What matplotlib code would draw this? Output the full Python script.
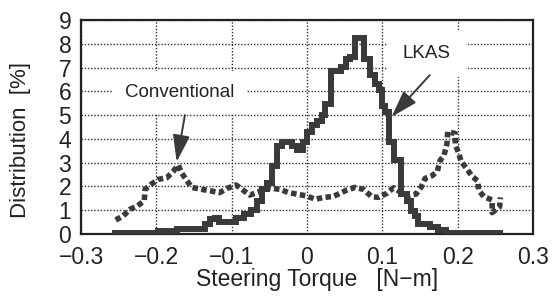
import matplotlib
matplotlib.use("Agg")
import matplotlib.pyplot as plt

plt.rcParams["font.family"] = ["Liberation Sans", "DejaVu Sans"]

# Conventional steering: distribution of torque
conv_x = [-0.254, -0.244, -0.235, -0.225, -0.216, -0.215, -0.207, -0.197, -0.186,
          -0.178, -0.171, -0.166, -0.160, -0.153, -0.140, -0.127, -0.116, -0.106,
          -0.094, -0.085, -0.076, -0.065, -0.056, -0.046, -0.036, -0.025, -0.014,
          0.000, 0.011, 0.022, 0.035, 0.044, 0.053, 0.064, 0.075, 0.086, 0.095,
          0.106, 0.115, 0.125, 0.135, 0.145, 0.152, 0.157, 0.166, 0.173, 0.177,
          0.182, 0.186, 0.187, 0.197, 0.197, 0.201, 0.205, 0.212, 0.219, 0.227,
          0.228, 0.235, 0.246, 0.246, 0.256, 0.257]
conv_y = [0.59, 0.76, 1.04, 1.18, 1.40, 1.88, 2.09, 2.30, 2.37,
          2.62, 2.90, 2.55, 2.27, 1.96, 1.88, 1.81, 1.74, 1.92,
          2.06, 1.85, 1.64, 1.75, 1.95, 1.92, 1.88, 1.75, 1.68,
          1.60, 1.46, 1.54, 1.58, 1.71, 1.85, 1.96, 1.88, 1.57, 1.54,
          1.71, 1.94, 1.75, 1.62, 1.68, 1.99, 2.34, 2.45, 2.62, 3.10,
          3.30, 3.80, 4.30, 4.23, 3.74, 3.46, 3.04, 2.76, 2.44, 2.23,
          1.85, 1.57, 1.43, 0.90, 1.15, 1.54]

# LKAS: step histogram (left bin edges, value)
lkas_x = [-0.255, -0.198, -0.173, -0.135, -0.129, -0.122, -0.117, -0.094, -0.084,
          -0.074, -0.066, -0.060, -0.053, -0.046, -0.040, -0.033, -0.020, -0.013,
          -0.005, 0.000, 0.007, 0.013, 0.020, 0.024, 0.032, 0.045, 0.052, 0.057,
          0.064, 0.076, 0.084, 0.090, 0.096, 0.100, 0.104, 0.109, 0.115, 0.125,
          0.133, 0.138, 0.144, 0.147, 0.163, 0.174, 0.185, 0.256]
lkas_y = [0.03, 0.12, 0.20, 0.40, 0.62, 0.68, 0.52, 0.66, 0.85,
          1.00, 1.40, 1.90, 2.15, 2.85, 3.70, 3.88, 3.70, 3.55,
          3.85, 4.30, 4.58, 4.75, 5.00, 5.45, 6.85, 7.03, 7.38, 7.45,
          8.25, 7.35, 6.68, 6.33, 6.05, 5.40, 5.15, 3.85, 3.10, 1.70,
          1.40, 0.95, 0.75, 0.40, 0.30, 0.15, 0.03, 0.03]

xticks = [-0.3, -0.2, -0.1, 0, 0.1, 0.2, 0.3]
xtick_labels = ["\u22120.3", "\u22120.2", "\u22120.1", "0", "0.1", "0.2", "0.3"]
yticks = list(range(10))

line_col = "#3a3a3a"
text_col = "#222222"

fig = plt.figure(figsize=(5.55, 3.0), dpi=100)
ax = fig.add_axes([0.146, 0.22, 0.814, 0.713])

ax.plot(conv_x, conv_y, color=line_col, lw=4.0, linestyle=(0, (1.0, 0.6)),
        dash_capstyle="butt", zorder=3)
ax.plot(lkas_x, lkas_y, color=line_col, lw=4.3, drawstyle="steps-post",
        solid_joinstyle="miter", zorder=4)

ax.set_xlim(-0.3, 0.3)
ax.set_ylim(0, 9)
ax.set_xticks(xticks)
ax.set_xticklabels(xtick_labels)
ax.set_yticks(yticks)
ax.tick_params(length=0, labelsize=16.5, colors=text_col, pad=7)
ax.tick_params(axis="x", pad=9)
ax.grid(True, color="#333333", linestyle=(0, (1, 1.3)), lw=1.0, zorder=1)
ax.set_axisbelow(True)
for s in ax.spines.values():
    s.set_linewidth(1.6)
    s.set_color("#222222")

ax.set_xlabel("Steering Torque   [N\u2212m]", fontsize=16.5, color=text_col)
ax.set_ylabel("Distribution  [%]", fontsize=16, color=text_col)
ax.xaxis.set_label_coords(0.522, -0.16)
ax.yaxis.set_label_coords(-0.11, 0.44)

head = "-|>,head_length=1.1,head_width=0.35"
ax.annotate("", xy=(-0.173, 3.04), xytext=(-0.162, 5.0),
            arrowprops=dict(arrowstyle=head, color=line_col, lw=1.4,
                            mutation_scale=15, shrinkA=0, shrinkB=0), zorder=5)
ax.annotate("", xy=(0.1125, 4.93), xytext=(0.163, 6.68),
            arrowprops=dict(arrowstyle=head, color=line_col, lw=1.4,
                            mutation_scale=15, shrinkA=0, shrinkB=0), zorder=5)
ax.text(-0.169, 5.95, "Conventional", fontsize=13.5, color=text_col,
        ha="center", va="center",
        bbox=dict(boxstyle="square,pad=0.7", fc="white", ec="none"), zorder=2)
ax.text(0.159, 7.6, "LKAS", fontsize=13.5, color=text_col,
        ha="center", va="center",
        bbox=dict(boxstyle="square,pad=0.8", fc="white", ec="none"), zorder=2)

fig.savefig("out.png", dpi=100)
